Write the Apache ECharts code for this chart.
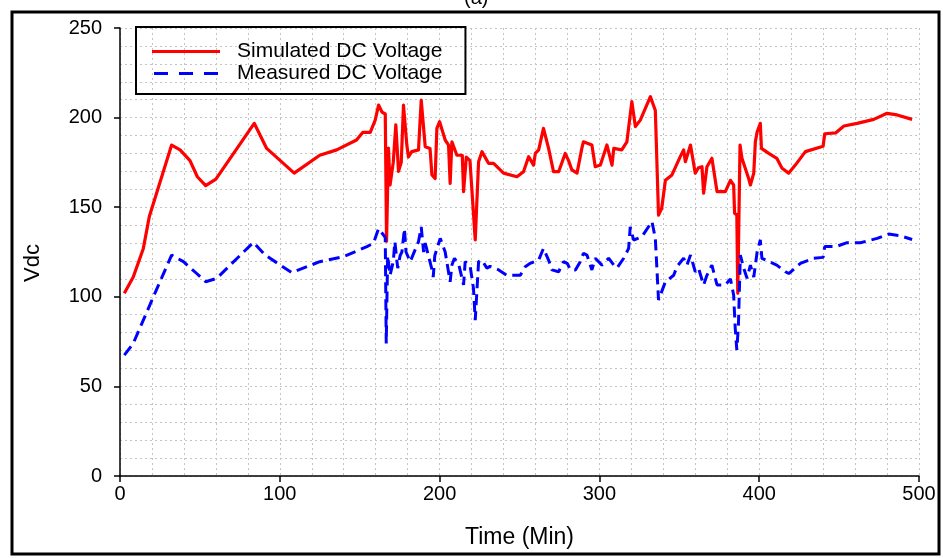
<!DOCTYPE html>
<html>
<head>
<meta charset="utf-8">
<script src="https://cdn.jsdelivr.net/npm/echarts@6/dist/echarts.min.js"></script>
<style>
html,body{margin:0;padding:0;background:#fff;}
#chart{width:943px;height:558px;}
</style>
</head>
<body>
<div id="chart"></div>
<script>
// Simulated DC voltage (time in minutes, volts)
const simTime = [2.7,8.3,14.6,18.4,32.3,37.6,43.8,48.4,53.6,60,84,91.8,109,125,135.6,148,152,156.6,159.7,161.8,164,166,166.8,168,169,171,172.6,174.3,176,177.4,179.5,180.5,182.6,186.8,188.5,191,194,195.2,197.2,198.3,200,203.5,205.6,206.6,207.7,210.8,214.2,215,216.7,219,222.3,224.4,226.5,230.6,233.8,240,248.4,252.5,255.7,258.8,259.9,262,265,268.2,271.3,274.5,278.6,280.7,282.8,286,289,290,295.3,297.4,300.6,304.7,307.9,309,314,317.2,320.3,322.5,325.6,331.9,335,337,339,341.3,345.4,350.6,352.7,353.8,357,360,362,364.2,365.2,367.3,370.4,373.6,378.8,382,384,384.6,386,386.6,388,389.2,393.4,394.5,396.6,397.6,398.7,400.7,401.4,406,411,414.3,418.4,422.6,428.9,440,441,448,453,461.3,471.7,480,486.3,495.7];
const simVolt = [102,111,127,145,184.7,182,176,167,162,165.7,196.8,182.8,169,179,182,187.5,191.8,191.8,198.6,207,203,202,131,183,162.4,175,196,170,175,207,184.7,178,181,182,209.8,183.8,182.8,168,166,194,197.7,187.5,184.7,163.3,186.5,179,179,158.7,178,176,131.7,175.4,181,174.5,174.5,169,167,169.8,178.2,173.5,180,182,194,182.8,169.8,169.8,180,176,170.8,169,182.8,186.5,184.7,172.6,173.5,184.7,173.5,182.8,182,186.5,208.9,195,198.6,211.7,204,145.6,149.4,165,168,178.2,182,175.4,184.7,169,172,172.6,157.8,172.6,177.3,158.7,158.7,165,162.4,146.6,145.6,102,184.7,177.3,166,162.4,169,186.5,192,196.8,182.8,180,177.3,171.7,169,173.5,181,184,191,191.5,195.3,196.8,199,202.4,201.5,199];

// Measured DC voltage
const measTime = [2.7,8.3,20.9,32.3,39.7,48,53.6,60.5,83.5,90.8,107.5,125,139.8,154.5,158.6,161.8,164.9,166,166.6,167.5,169,171,172,173.8,175.3,176.4,178,179,181.6,186.8,188.5,190,191,195,196,197,200.4,203.5,206.6,207.7,209.3,212,215,216,219,221.2,222.3,224.4,226.5,229.6,231.5,237,242,250.5,253.6,256.7,257.8,262,265,268.2,270.3,274.5,277.6,280,281.8,285,288,290,292.2,295.3,297.4,301.6,305.8,309,311,315.2,318.3,319.3,321.4,326.6,332.9,335,337,339,341.3,346.5,348.5,352.7,354.8,357,360,362,365.2,367.3,370.4,373.6,378.8,382,384,385,386,387,388.2,390.3,392.4,394.5,396.6,398.7,400.7,401.7,411,416.4,418.5,425.8,434,440,441,448,455,463.4,473.8,481,488.4,495.7];
const measVolt = [67.5,74,100,123.3,119.6,113,108.4,110.3,130.4,123.3,113.5,119.6,122.4,128,129.9,138,134.5,133,74,123,112,119.6,130.8,116,123,125,138,125,119.6,130.8,139,125,130,116,111,123,132.6,125,108.4,117.7,121.5,118,106.6,119.6,117.7,104.7,87,119.6,120.5,116,117,115,112,112,116.8,118.7,117.7,120.5,127,120.5,115,114,119.6,118.5,115,115,119.6,124.3,123.3,115,121.5,117.7,121.5,117.7,116,121.5,127,139,131.7,133.5,142,132.6,98.2,102.9,108.4,112,116.8,121.5,117.7,123.3,114,116,106.6,112,117.7,106.6,106.6,110,101,82.4,70.3,84.3,123.3,116,110.3,117.7,111,125,131.7,121.5,117.7,114,113,118.7,121.5,122,128,128,130.2,130.2,132.6,135,134,132];

const seriesNames = ['Simulated DC Voltage', 'Measured DC Voltage'];

const zip = (a, b) => a.map((t, i) => [t, b[i]]);

const chart = echarts.init(document.getElementById('chart'), null, {renderer: 'canvas'});
const FONT = '"Liberation Sans", Arial, sans-serif';
const gridLine = {show: true, lineStyle: {color: '#c4c4c4', type: [2, 3], width: 1}};

chart.setOption({
  animation: false,
  backgroundColor: '#ffffff',
  textStyle: {fontFamily: FONT},
  grid: {left: 120, right: 24, top: 28, bottom: 82},
  graphic: [
    {type: 'rect', shape: {x: 12, y: 12, width: 927, height: 542}, style: {fill: 'none', stroke: '#000', lineWidth: 3}, z: 100},
    {type: 'text', left: 464, top: -12, style: {text: '(a)', fontSize: 20, fontFamily: FONT, fill: '#000'}}
  ],
  legend: {
    orient: 'vertical',
    left: 136, top: 27,
    padding: [14, 23, 10, 16],
    itemGap: 1,
    itemWidth: 68, itemHeight: 3,
    borderColor: '#000', borderWidth: 2,
    textStyle: {fontSize: 21, lineHeight: 21, color: '#000', fontFamily: FONT, padding: [0, 0, 0, 12]},
    data: [
      {name: seriesNames[0], icon: 'rect'},
      {name: seriesNames[1], icon: 'path://M0,0h14v3h-14z M25,0h14v3h-14z M50,0h14v3h-14z'}
    ]
  },
  xAxis: {
    type: 'value', min: 0, max: 500, interval: 100,
    name: 'Time (Min)', nameLocation: 'middle', nameGap: 50,
    nameTextStyle: {fontSize: 23, color: '#000', fontFamily: FONT},
    axisLine: {show: true, onZero: false, lineStyle: {color: '#000', width: 1.5}},
    axisTick: {show: true, length: 6, lineStyle: {color: '#000', width: 1.5}},
    axisLabel: {fontSize: 20, color: '#000', margin: 8, fontFamily: FONT},
    splitLine: gridLine,
    minorTick: {show: false, splitNumber: 5},
    minorSplitLine: gridLine
  },
  yAxis: {
    type: 'value', min: 0, max: 250, interval: 50,
    name: 'Vdc', nameLocation: 'middle', nameGap: 76,
    nameTextStyle: {fontSize: 22, color: '#000', fontFamily: FONT, padding: [0, 22, 0, 0]},
    axisLine: {show: true, lineStyle: {color: '#000', width: 1.5}},
    axisTick: {show: true, length: 6, lineStyle: {color: '#000', width: 1.5}},
    axisLabel: {fontSize: 20, color: '#000', margin: 18, fontFamily: FONT},
    splitLine: gridLine,
    minorTick: {show: false, splitNumber: 5},
    minorSplitLine: gridLine
  },
  series: [
    {
      name: seriesNames[0], type: 'line', symbol: 'none',
      data: zip(simTime, simVolt),
      lineStyle: {color: '#ff0000', width: 3.2, join: 'round'},
      itemStyle: {color: '#ff0000'}
    },
    {
      name: seriesNames[1], type: 'line', symbol: 'none',
      data: zip(measTime, measVolt),
      lineStyle: {color: '#0000ff', width: 3, type: [11, 6]},
      itemStyle: {color: '#0000ff'}
    }
  ]
});
</script>
</body>
</html>
